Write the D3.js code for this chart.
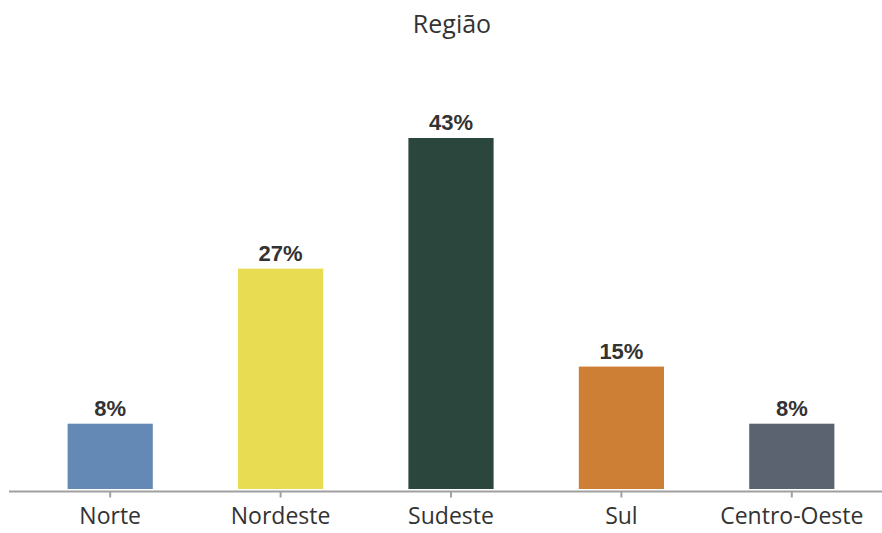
<!DOCTYPE html>
<html>
<head>
<meta charset="utf-8">
<script src="https://cdn.jsdelivr.net/npm/d3@7"></script>
<style>
  body { margin: 0; background: #fff; }
  svg { display: block; }
</style>
</head>
<body>
<div id="chart"></div>
<script>
// Bar chart: distribution by region (percent)
var regions = ["Norte", "Nordeste", "Sudeste", "Sul", "Centro-Oeste"];
var shares = [8, 27, 43, 15, 8];
var colors = ["#6389b4", "#e8dd52", "#2b473d", "#cd7f35", "#5c6370"];
var title = "Região";

var width = 882, height = 533;
var baseline = 489;

var svg = d3.select("#chart").append("svg")
  .attr("width", width)
  .attr("height", height);

var x = d3.scaleBand().domain(regions).range([25, 877])
  .paddingInner(0.5).paddingOuter(0.25);
var y = d3.scaleLinear().domain([0, 43]).range([baseline, 138]);

svg.append("text")
  .attr("x", 452)
  .attr("y", 33)
  .attr("text-anchor", "middle")
  .style("font-family", "'Open Sans', sans-serif")
  .style("font-size", "25px")
  .style("fill", "#333")
  .text(title);

svg.selectAll("rect.bar")
  .data(regions)
  .join("rect")
  .attr("class", "bar")
  .attr("x", function (d) { return x(d); })
  .attr("width", x.bandwidth())
  .attr("y", function (d, i) { return y(shares[i]); })
  .attr("height", function (d, i) { return baseline - y(shares[i]); })
  .attr("fill", function (d, i) { return colors[i]; });

svg.selectAll("text.val")
  .data(regions)
  .join("text")
  .attr("class", "val")
  .attr("x", function (d) { return x(d) + x.bandwidth() / 2; })
  .attr("y", function (d, i) { return y(shares[i]) - 8; })
  .attr("text-anchor", "middle")
  .style("font-family", "'Liberation Sans', Arial, sans-serif")
  .style("font-weight", "bold")
  .style("font-size", "22px")
  .style("fill", "#333")
  .text(function (d, i) { return shares[i] + "%"; });

var axis = svg.append("g")
  .attr("transform", "translate(0," + 491.5 + ")")
  .call(d3.axisBottom(x).tickSize(6).tickSizeOuter(0).tickPadding(10));
axis.select(".domain").remove();
axis.insert("line", ":first-child")
  .attr("x1", 9).attr("x2", 882)
  .attr("stroke", "#a0a0a0").attr("stroke-width", 2);
axis.selectAll(".tick line").attr("stroke", "#a0a0a0").attr("stroke-width", 2);
axis.selectAll(".tick text")
  .style("font-family", "'Open Sans', sans-serif")
  .style("font-size", "23px")
  .style("fill", "#333");
</script>
</body>
</html>
